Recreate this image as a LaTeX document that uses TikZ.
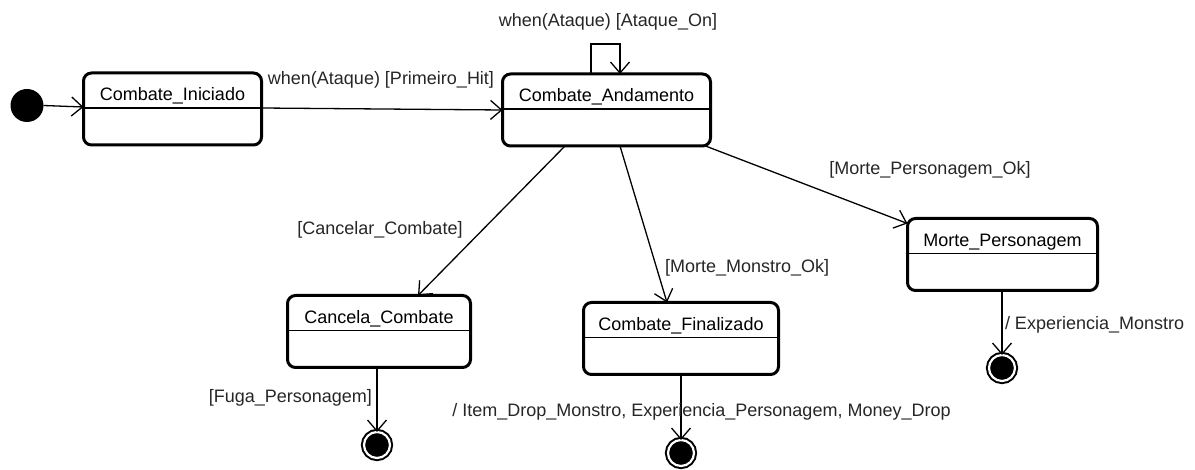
\documentclass[tikz,border=0pt]{standalone}
\usepackage{fontspec}
\setmainfont{Liberation Sans}
\usetikzlibrary{arrows.meta}
\begin{document}
\begin{tikzpicture}[x=1pt,y=-1pt,
  every node/.style={font=\fontsize{18}{21}\selectfont, inner sep=0pt, outer sep=0pt},
  statebox/.style={draw, line width=3pt, rounded corners=8pt, minimum height=72pt},
  divider/.style={line width=1.3pt},
  conn/.style={line width=1.3pt, -{Straight Barb[length=11pt, width=19pt, line width=1.3pt]}},
  initstate/.style={circle, fill=black, minimum size=33pt},
  finalstate/.style={circle, draw, line width=2pt, fill=black, double=white, double distance=2.2pt, minimum size=26pt},
  lbl/.style={text=black!85}
]
\useasboundingbox (0,0) rectangle (1195,470);

% states
\node[initstate] (init) at (27,105.5) {};
\node[statebox, minimum width=178pt] (ini) at (172.5,109) {};
\node[statebox, minimum width=208pt] (and) at (606.5,110) {};
\node[statebox, minimum width=183pt] (can) at (379,331.5) {};
\node[statebox, minimum width=195pt] (fin) at (681,338.5) {};
\node[statebox, minimum width=190pt] (mp)  at (1002.5,254.5) {};

% state names and compartment dividers
\foreach \n/\t in {ini/Combate\_Iniciado, and/Combate\_Andamento, can/Cancela\_Combate,
                   fin/Combate\_Finalizado, mp/Morte\_Personagem}{
  \node[anchor=base] (\n-name) at ([yshift=-28pt]\n.north) {\t};
  \draw[divider] ([yshift=-35pt]\n.north west) -- ([yshift=-35pt]\n.north east);
}

% final states
\node[finalstate] (f1) at (377,445) {};
\node[finalstate] (f2) at (681,453) {};
\node[finalstate] (f3) at (1002,368) {};

% transitions
\draw[conn] (init.east) -- ([yshift=2pt]ini.west);
\draw[conn] ([yshift=1pt]ini.east) -- (and.west);
\draw[conn] ([xshift=-15.5pt]and.north) -- ++(0,-30) -| ([xshift=13.5pt]and.north);
\draw[conn] ([xshift=-41.5pt]and.south) -- ([xshift=39pt]can.north);
\draw[conn] ([xshift=13.5pt]and.south) -- ([xshift=-14pt]fin.north);
\draw[conn] ([xshift=-5pt]and.south east) -- ([yshift=-5pt]mp.north west);
\draw[conn] (f1 |- can.south) -- (f1.north);
\draw[conn] (f2 |- fin.south) -- (f2.north);
\draw[conn] (f3 |- mp.south) -- (f3.north);

% transition labels
\node[lbl] (l-loop) at (608,22) {when(Ataque) [Ataque\_On]};
\node[lbl] (l-hit) at (381,80) {when(Ataque) [Primeiro\_Hit]};
\node[lbl] (l-canc) at (380,230) {[Cancelar\_Combate]};
\node[lbl, anchor=west] (l-mmo) at (665,268) {[Morte\_Monstro\_Ok]};
\node[lbl] (l-mpo) at (930,170) {[Morte\_Personagem\_Ok]};
\node[lbl, anchor=east] (l-fuga) at (372,398) {[Fuga\_Personagem]};
\node[lbl] (l-drop) at (701.5,412) {/ Item\_Drop\_Monstro, Experiencia\_Personagem, Money\_Drop};
\node[lbl, anchor=west] (l-exp) at (1005,325) {/ Experiencia\_Monstro};
\end{tikzpicture}
\end{document}
